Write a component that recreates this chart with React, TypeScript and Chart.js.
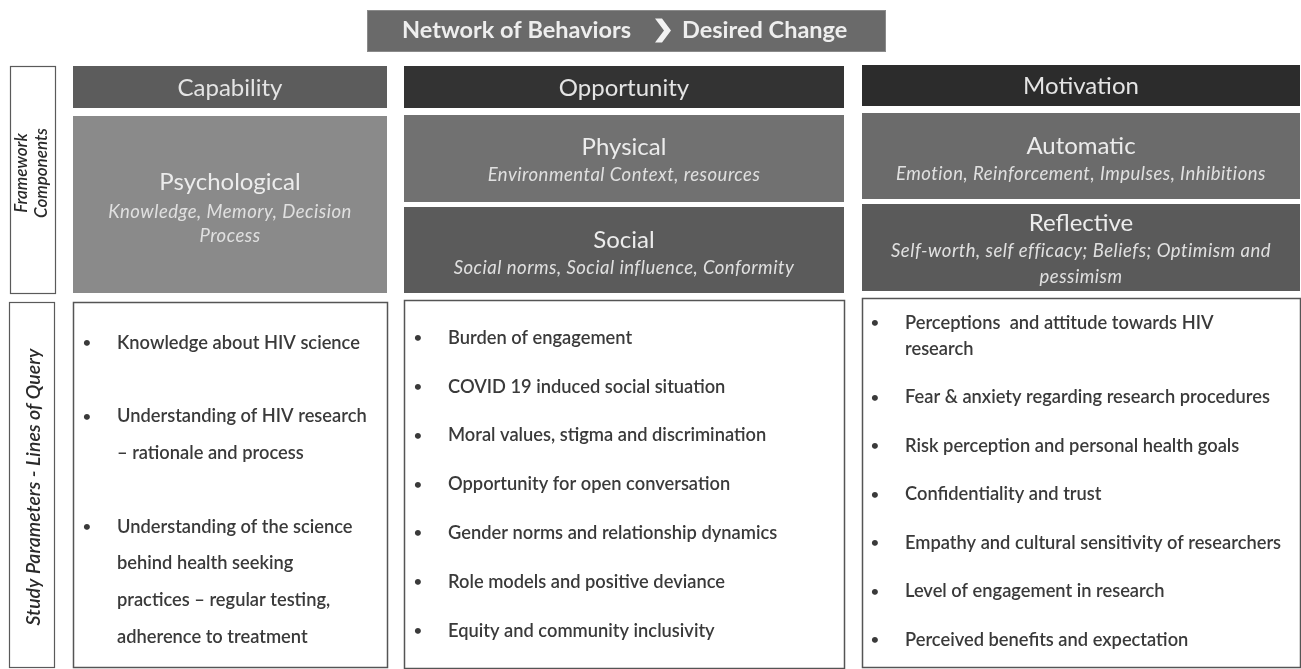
import React, { useEffect, useRef } from "react";
import { Chart, registerables } from "chart.js";
Chart.register(...registerables);

// ---------- content ----------
const bannerLeft = "Network of Behaviors";
const bannerRight = "Desired Change";
const frameworkLabel = ["Framework", "Components"];
const studyLabel = ["Study Parameters - Lines of Query"];
const columnHeaders = ["Capability", "Opportunity", "Motivation"];
const capabilityComponents = ["Psychological"];
const opportunityComponents = ["Physical", "Social"];
const motivationComponents = ["Automatic", "Reflective"];
const capabilityNotes = [["Knowledge, Memory, Decision", "Process"]];
const opportunityNotes = [["Environmental Context, resources"], ["Social norms, Social influence, Conformity"]];
const motivationNotes = [
  ["Emotion, Reinforcement, Impulses, Inhibitions"],
  ["Self-worth, self efficacy; Beliefs; Optimism and", "pessimism"],
];
const capabilityQueries = [
  ["Knowledge about HIV science"],
  ["Understanding of HIV research", "– rationale and process"],
  ["Understanding of the science", "behind health seeking", "practices – regular testing,", "adherence to treatment"],
];
const opportunityQueries = [
  ["Burden of engagement"],
  ["COVID 19 induced social situation"],
  ["Moral values, stigma and discrimination"],
  ["Opportunity for open conversation"],
  ["Gender norms and relationship dynamics"],
  ["Role models and positive deviance"],
  ["Equity and community inclusivity"],
];
const motivationQueries = [
  ["Perceptions  and attitude towards HIV", "research"],
  ["Fear & anxiety regarding research procedures"],
  ["Risk perception and personal health goals"],
  ["Confidentiality and trust"],
  ["Empathy and cultural sensitivity of researchers"],
  ["Level of engagement in research"],
  ["Perceived benefits and expectation"],
];

// ---------- layout (scale units) ----------
const W = 1301;
const H = 669;
const FONT = "Lato, 'Open Sans', sans-serif";
const bannerBox = { x0: 367, x1: 885, y0: 10, y1: 51 };
const labelBoxes = [
  { x0: 10, x1: 55, y0: 66, y1: 293 },
  { x0: 9, x1: 54, y0: 302, y1: 667 },
];
const columns = [
  {
    x0: 73, x1: 387, header: [66, 108], headerColor: "#5c5c5c",
    comps: [[116, 293]], compColors: ["#8a8a8a"],
    titleOffsets: [[66, 96, 120]],
    list: [302, 667], bulletX: 87, textX: 117, firstY: 343, wrapLH: 36.7, gap: 73.5,
  },
  {
    x0: 404, x1: 844, header: [66, 108], headerColor: "#333333",
    comps: [[115, 202], [207, 293]], compColors: ["#717171", "#5b5b5b"],
    titleOffsets: [[32, 60], [33, 61]],
    list: [300, 668], bulletX: 418, textX: 448, firstY: 338, wrapLH: 26, gap: 48.8,
  },
  {
    x0: 862, x1: 1300, header: [65, 106], headerColor: "#2c2c2c",
    comps: [[113, 199], [204, 291]], compColors: ["#6b6b6b", "#5a5a5a"],
    titleOffsets: [[33, 61], [19, 47, 73]],
    list: [298, 667], bulletX: 875, textX: 905, firstY: 323, wrapLH: 26, gap: 48.5,
  },
];
const componentsByCol = [capabilityComponents, opportunityComponents, motivationComponents];
const notesByCol = [capabilityNotes, opportunityNotes, motivationNotes];
const queriesByCol = [capabilityQueries, opportunityQueries, motivationQueries];

const diagramPlugin = {
  id: "cobDiagram",
  afterDraw(chart: any) {
    const ctx: any = chart.ctx;
    const xs = chart.scales.x;
    const ys = chart.scales.y;
    const px = (v: number) => xs.getPixelForValue(v);
    const py = (v: number) => ys.getPixelForValue(v);
    const fillBox = (x0: number, x1: number, y0: number, y1: number, color: string) => {
      ctx.fillStyle = color;
      ctx.fillRect(px(x0), py(y0), px(x1) - px(x0), py(y1) - py(y0));
    };
    const strokeBox = (x0: number, x1: number, y0: number, y1: number, color: string, lw: number) => {
      ctx.strokeStyle = color;
      ctx.lineWidth = lw;
      ctx.strokeRect(px(x0) + 0.5, py(y0) + 0.5, px(x1) - px(x0), py(y1) - py(y0));
    };
    const text = (
      s: string, x: number, y: number, font: string, color: string,
      align: CanvasTextAlign = "center", spacing = "0px"
    ) => {
      ctx.font = font;
      ctx.fillStyle = color;
      ctx.textAlign = align;
      ctx.textBaseline = "middle";
      ctx.letterSpacing = spacing;
      ctx.fillText(s, px(x), py(y));
      ctx.letterSpacing = "0px";
    };
    ctx.save();

    // banner
    fillBox(bannerBox.x0, bannerBox.x1, bannerBox.y0, bannerBox.y1, "#6a6a6a");
    strokeBox(bannerBox.x0, bannerBox.x1, bannerBox.y0, bannerBox.y1, "#8a8a8a", 1);
    const by = (bannerBox.y0 + bannerBox.y1) / 2;
    text(bannerLeft, 402, by, `bold 23.5px ${FONT}`, "#eeeeee", "left");
    text(bannerRight, 682, by, `bold 23.5px ${FONT}`, "#eeeeee", "left");
    ctx.fillStyle = "#f2f2f2";
    ctx.beginPath();
    ctx.moveTo(px(655), py(by - 12));
    ctx.lineTo(px(662), py(by - 12));
    ctx.lineTo(px(671), py(by));
    ctx.lineTo(px(662), py(by + 12));
    ctx.lineTo(px(655), py(by + 12));
    ctx.lineTo(px(664), py(by));
    ctx.closePath();
    ctx.fill();

    // row labels
    labelBoxes.forEach((b) => strokeBox(b.x0, b.x1, b.y0, b.y1, "#5a5a5a", 1.2));
    const rotText = (lines: string[], cx: number, cy: number, lh: number, size: number) => {
      ctx.save();
      ctx.translate(px(cx), py(cy));
      ctx.rotate(-Math.PI / 2);
      ctx.font = `italic 600 ${size}px ${FONT}`;
      ctx.fillStyle = "#2a2a2a";
      ctx.textAlign = "center";
      ctx.textBaseline = "middle";
      lines.forEach((l, i) => ctx.fillText(l, 0, (i - (lines.length - 1) / 2) * lh));
      ctx.restore();
    };
    rotText(frameworkLabel, 32, 173, 20, 17);
    rotText(studyLabel, 34, 487, 19, 19.5);

    // columns
    columns.forEach((c, ci) => {
      const cx = (c.x0 + c.x1) / 2;
      fillBox(c.x0, c.x1, c.header[0], c.header[1], c.headerColor);
      text(columnHeaders[ci], cx, (c.header[0] + c.header[1]) / 2 + 1, `24px ${FONT}`, "#e4e4e4");
      c.comps.forEach((r, ri) => {
        fillBox(c.x0, c.x1, r[0], r[1], c.compColors[ri]);
        const offs = c.titleOffsets[ri];
        text(componentsByCol[ci][ri], cx, r[0] + offs[0], `24px ${FONT}`, "#ececec");
        notesByCol[ci][ri].forEach((n, ni) =>
          text(n, cx, r[0] + offs[1 + ni], `italic 18.5px ${FONT}`, "#e0e0e0", "center", "0.5px")
        );
      });
      fillBox(c.x0, c.x1, c.list[0], c.list[1], "#ffffff");
      strokeBox(c.x0, c.x1, c.list[0], c.list[1], "#555555", 1.5);
      let y = c.firstY;
      queriesByCol[ci].forEach((item, ii) => {
        if (ii > 0) y += c.gap;
        text("•", c.bulletX, y, `16px ${FONT}`, "#3a3a3a");
        item.forEach((line, li) => {
          if (li > 0) y += c.wrapLH;
          text(line, c.textX, y, `600 18.3px ${FONT}`, "#3a3a3a", "left");
        });
      });
    });
    ctx.restore();
  },
};

export default function App() {
  const ref = useRef<HTMLCanvasElement | null>(null);
  useEffect(() => {
    document.body.style.margin = "0";
    document.body.style.background = "#ffffff";
    if (!ref.current) return;
    const chart = new Chart(ref.current, {
      type: "scatter",
      data: { datasets: [{ data: [], pointRadius: 0 }] },
      options: {
        responsive: false,
        animation: false,
        layout: { padding: 0 },
        plugins: { legend: { display: false }, tooltip: { enabled: false } },
        scales: {
          x: { type: "linear", min: 0, max: W, display: false },
          y: { type: "linear", min: 0, max: H, reverse: true, display: false },
        },
      },
      plugins: [diagramPlugin],
    });
    return () => chart.destroy();
  }, []);
  return (
    <div style={{ width: W, height: H, background: "#fff" }}>
      <canvas ref={ref} width={W} height={H} style={{ display: "block" }} />
    </div>
  );
}
